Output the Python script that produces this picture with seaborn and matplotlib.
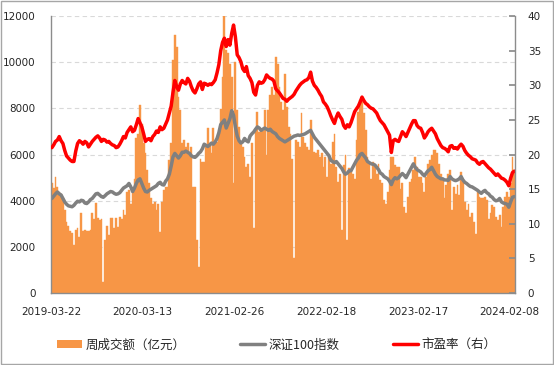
import numpy as np
import pandas as pd
import matplotlib
matplotlib.use('Agg')
import matplotlib.pyplot as plt
import seaborn as sns
from matplotlib.patches import Patch, Rectangle
from matplotlib.lines import Line2D

# weekly turnover (100m yuan)
vol = [4750, 4550, 5050, 4600, 4400, 4300, 4100, 3600, 3100, 2900,
       2700, 2600, 2100, 2750, 2800, 2450, 3450, 2700, 2750, 2700,
       2700, 2750, 3450, 3200, 3900, 3250, 3150, 3200, 500, 2300,
       2900, 2500, 3250, 3250, 2800, 3250, 2850, 3300, 3230, 3590,
       3370, 4380, 4450, 3880, 4380, 4960, 6700, 6900, 8150, 7345,
       6480, 6050, 5320, 4750, 4100, 3880, 3950, 3590, 3880, 2650,
       3950, 4450, 4600, 4600, 5750, 6480, 10090, 11170, 10670, 8500,
       7920, 6480, 6620, 6330, 6480, 6050, 6330, 4600, 4600, 2290,
       1140, 5830, 5680, 5680, 6330, 7130, 6480, 6050, 7130, 6480,
       6550, 6840, 7990, 9370, 12000, 10520, 10380, 9940, 9370, 4750,
       10000, 7920, 7200, 6480, 6330, 5900, 5470, 5610, 5030, 6500,
       2800, 6985, 7850, 6985, 7050, 7000, 7920, 5970, 7920, 8570,
       8930, 8570, 10230, 9940, 8930, 8280, 7920, 9510, 8060, 7200,
       6910, 5830, 1500, 6620, 6550, 6330, 7780, 6770, 6480, 6330,
       6190, 7490, 6840, 6120, 6050, 6190, 5900, 6050, 5470, 5900,
       5030, 5900, 5610, 6550, 6910, 5470, 4820, 5180, 2720, 5540,
       5970, 2290, 5400, 5320, 5180, 4960, 6620, 7850, 8360, 8280,
       7780, 7060, 5900, 5610, 4960, 5680, 5470, 5180, 5610, 4890,
       4750, 4020, 3880, 4380, 5320, 5900, 5900, 5540, 5470, 5470,
       4530, 4750, 3730, 3450, 4170, 4820, 4960, 5320, 5900, 5470,
       5030, 5030, 4750, 4380, 5030, 5610, 5750, 5970, 6190, 6190,
       6050, 5610, 5180, 4890, 4100, 4670, 5180, 5320, 3590, 4600,
       4310, 4670, 4240, 5250, 4890, 3950, 3590, 3880, 3300, 3450,
       3080, 2580, 4380, 4170, 4100, 4100, 4170, 4020, 3230, 3450,
       3810, 3730, 3300, 3160, 3370, 2870, 3730, 4170, 4380, 4170,
       4750, 5900, 5320]

# SZSE 100 index (left axis)
sz100 = [4100, 4200, 4300, 4380, 4300, 4250, 4100, 3950, 3850, 3780,
         3760, 3740, 3800, 3900, 3980, 3950, 4020, 4000, 3900, 3880,
         3950, 4050, 4100, 4200, 4300, 4320, 4250, 4180, 4150, 4220,
         4300, 4350, 4400, 4380, 4320, 4280, 4300, 4350, 4450, 4550,
         4600, 4650, 4750, 4600, 4400, 4550, 4750, 4900, 4950, 4750,
         4550, 4400, 4380, 4450, 4500, 4550, 4600, 4650, 4750, 4800,
         4700, 4680, 4850, 4950, 5150, 5500, 5900, 6050, 5950, 5850,
         5950, 6100, 6100, 6150, 6100, 6050, 5950, 5900, 5880, 5950,
         6050, 6120, 6250, 6450, 6400, 6350, 6420, 6500, 6450, 6550,
         6700, 6950, 7300, 7400, 7500, 7150, 7350, 7550, 7900, 7700,
         7200, 6800, 6600, 6500, 6550, 6700, 6600, 6550, 6800, 6900,
         6980, 7100, 7200, 7150, 7050, 7100, 7150, 7100, 7050, 7100,
         7000, 6950, 6900, 6780, 6700, 6650, 6600, 6550, 6600, 6650,
         6700, 6750, 6800, 6820, 6850, 6830, 6850, 6870, 6900, 6950,
         7000, 7050, 6900, 6750, 6650, 6550, 6450, 6350, 6250, 6150,
         6050, 5950, 5750, 5700, 5650, 5700, 5600, 5500, 5400, 5250,
         5150, 5200, 5300, 5300, 5450, 5600, 5750, 5850, 6000, 6050,
         5950, 5850, 5700, 5650, 5600, 5580, 5550, 5450, 5350, 5200,
         5150, 5050, 5000, 4950, 4850, 4700, 4900, 5000, 4950, 5000,
         5100, 5180, 5100, 5000, 5150, 5300, 5450, 5600, 5450, 5350,
         5300, 5250, 5150, 5080, 5200, 5300, 5350, 5450, 5300, 5150,
         5050, 5000, 4950, 4950, 4900, 4900, 4880, 5050, 4950, 4900,
         4870, 4900, 4950, 5050, 4900, 4800, 4750, 4680, 4620, 4600,
         4550, 4500, 4450, 4380, 4320, 4400, 4450, 4350, 4300, 4200,
         4150, 4050, 4000, 4020, 4100, 3950, 3900, 3880, 3850, 3720,
         3950, 4150, 4180]

# P/E ratio (right axis)
pe = [21.0, 21.4, 21.9, 22.1, 22.6, 22.0, 21.6, 20.6, 19.8, 19.5,
      19.2, 19.0, 19.0, 20.5, 21.6, 22.0, 21.8, 21.5, 21.9, 21.7,
      21.1, 21.5, 21.9, 22.2, 22.5, 22.7, 22.4, 21.9, 22.2, 22.1,
      21.8, 21.9, 21.6, 21.4, 21.3, 21.0, 21.1, 21.5, 22.0, 22.6,
      22.4, 23.2, 23.6, 24.0, 23.3, 23.5, 24.3, 25.2, 24.6, 24.0,
      23.0, 21.9, 22.2, 22.3, 22.0, 22.6, 22.9, 23.4, 23.2, 24.0,
      23.6, 23.8, 24.4, 25.0, 26.0, 27.0, 29.0, 30.7, 29.8, 29.3,
      30.2, 30.7, 30.4, 30.2, 31.0, 30.6, 29.8, 29.2, 28.9, 29.5,
      30.2, 30.5, 29.4, 30.3, 30.2, 30.0, 30.2, 30.1, 30.4, 30.8,
      31.8, 33.0, 35.0, 36.2, 36.8, 35.6, 36.6, 35.8, 37.5, 38.7,
      37.0, 34.4, 34.0, 33.4, 32.4, 32.0, 32.7, 31.4, 31.0, 30.4,
      29.0, 28.6, 30.0, 30.5, 30.3, 30.4, 30.8, 31.5, 31.2, 31.0,
      30.9, 30.6, 29.5, 29.2, 28.9, 28.5, 28.1, 28.0, 27.7, 28.0,
      28.2, 28.4, 28.7, 29.2, 29.6, 30.0, 30.3, 30.5, 30.7, 30.8,
      31.1, 31.9, 30.6, 30.0, 29.7, 29.3, 28.8, 28.4, 27.6, 27.3,
      26.9, 26.3, 25.6, 25.0, 24.5, 25.4, 26.0, 25.5, 25.1, 24.2,
      23.8, 24.3, 24.0, 24.6, 25.4, 26.2, 26.6, 27.0, 27.6, 28.3,
      27.8, 27.4, 27.2, 26.9, 26.7, 26.6, 26.3, 26.0, 25.4, 24.9,
      24.6, 24.3, 23.8, 23.3, 22.8, 20.3, 22.0, 22.2, 22.0, 21.9,
      22.6, 23.3, 23.0, 22.6, 23.2, 23.8, 24.4, 24.9, 24.9, 24.2,
      23.9, 23.8, 23.2, 22.4, 22.8, 23.3, 23.6, 23.8, 23.4, 23.0,
      22.3, 21.8, 21.3, 21.0, 20.9, 20.7, 20.4, 21.2, 21.3, 20.9,
      21.0, 20.8, 21.2, 21.5, 21.2, 20.6, 20.2, 19.9, 19.7, 19.4,
      19.3, 19.2, 18.8, 18.6, 18.9, 19.0, 18.7, 18.4, 18.1, 17.9,
      17.6, 17.3, 17.0, 17.2, 16.9, 16.6, 16.5, 16.3, 16.0, 15.5,
      16.6, 17.4, 17.6]

tick_labels = ['2019-03-22', '2020-03-13', '2021-02-26',
               '2022-02-18', '2023-02-17', '2024-02-08']
legend_labels = ['周成交额（亿元）', '深证100指数', '市盈率（右）']

sns.set_theme(style='white')
plt.rcParams['font.family'] = ['DejaVu Sans', 'Noto Sans CJK SC']

df = pd.DataFrame({'week': np.arange(len(vol)), 'vol': vol,
                   'sz100': sz100, 'pe': pe})

fig = plt.figure(figsize=(5.54, 3.65), dpi=100)
ax = fig.add_axes([0.092, 0.197, 0.838, 0.759])

# edge in the same colour closes the anti-aliasing seams between bars
sns.barplot(data=df, x='week', y='vol', color='#F79646', saturation=1,
            width=1.0, edgecolor='#F79646', linewidth=0.3, errorbar=None, ax=ax)
sns.lineplot(data=df, x='week', y='sz100', color='#808080',
             linewidth=2.5, ax=ax)

ax2 = ax.twinx()
sns.lineplot(data=df, x='week', y='pe', color='#FF0000',
             linewidth=2.5, ax=ax2)

# axes
n = len(vol)
ax.set_xlim(-0.5, n - 0.5)
ax.set_ylim(0, 12000)
ax2.set_ylim(0, 40)
ax.set_yticks(range(0, 12001, 2000))
ax2.set_yticks(range(0, 41, 5))
ax.set_xticks([i * 50 - 0.5 for i in range(len(tick_labels))])
ax.set_xticklabels(tick_labels)
for a in (ax, ax2):
    a.set_xlabel('')
    a.set_ylabel('')

ax.set_axisbelow(True)
ax.yaxis.grid(True, linestyle=(0, (4, 3)), color='#D9D9D9', linewidth=0.8)

for s in ['top', 'right']:
    ax.spines[s].set_visible(False)
for s in ['top', 'left', 'bottom']:
    ax2.spines[s].set_visible(False)
for sp in [ax.spines['left'], ax.spines['bottom'], ax2.spines['right']]:
    sp.set_color('#8C8C8C')
    sp.set_linewidth(1.0)

ax.tick_params(axis='y', length=0, pad=11, labelsize=7.5, labelcolor='#262626')
ax.tick_params(axis='x', direction='in', length=4, color='#8C8C8C',
               pad=10, labelsize=7.5, labelcolor='#262626')
ax2.tick_params(axis='y', direction='in', length=4, color='#8C8C8C',
                pad=9, labelsize=7.5, labelcolor='#262626')

# legend
handles = [Patch(facecolor='#F79646', edgecolor='none'),
           Line2D([0], [0], color='#808080', linewidth=2.5),
           Line2D([0], [0], color='#FF0000', linewidth=2.5)]
fig.legend(handles, legend_labels, loc='center', bbox_to_anchor=(0.5, 0.055),
           ncol=3, frameon=False, handlelength=2.0, handletextpad=0.3,
           columnspacing=4.3, prop={'family': ['Noto Sans CJK SC'], 'size': 9})

# outer frame
fig.add_artist(Rectangle((0.001, 0.002), 0.997, 0.995, transform=fig.transFigure,
                         fill=False, edgecolor='#A6A6A6', linewidth=1))

fig.savefig('out.png', dpi=100)
